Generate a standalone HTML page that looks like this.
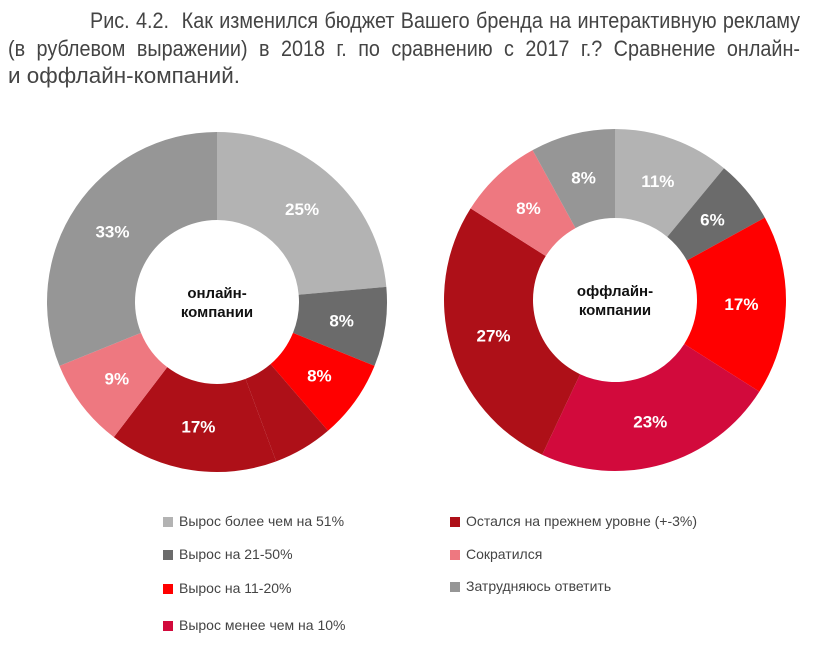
<!DOCTYPE html>
<html><head><meta charset="utf-8"><style>
body{margin:0;background:#fff;width:835px;height:651px;overflow:hidden;font-family:"Liberation Sans",sans-serif}
.t{position:absolute;font-size:22px;color:#444;white-space:nowrap;transform-origin:0 0;text-align:justify;text-align-last:justify}
.lg{position:absolute;font-size:14px;color:#444;white-space:nowrap}
.lg i{display:inline-block;width:10px;height:10px;margin-right:6px;vertical-align:-1px}
</style></head><body>
<div class="t" style="left:90px;top:8px;width:789px;transform:scaleX(0.9)">Рис. 4.2.&nbsp; Как изменился бюджет Вашего бренда на интерактивную рекламу</div>
<div class="t" style="left:8px;top:36px;width:880px;transform:scaleX(0.9)">(в рублевом выражении) в 2018 г. по сравнению с 2017 г.? Сравнение онлайн-</div>
<div class="t" style="left:8px;top:63px;text-align-last:auto;transform:scaleX(1.02)">и оффлайн-компаний.</div>
<svg id="c" width="835" height="651" style="position:absolute;left:0;top:0"></svg>
<div class="lg" style="left:163px;top:513px"><i style="background:#b3b3b3"></i>Вырос более чем на 51%</div>
<div class="lg" style="left:163px;top:546px"><i style="background:#6b6b6b"></i>Вырос на 21-50%</div>
<div class="lg" style="left:163px;top:580px"><i style="background:#ff0000"></i>Вырос на 11-20%</div>
<div class="lg" style="left:163px;top:617px"><i style="background:#d20a3c"></i>Вырос менее чем на 10%</div>
<div class="lg" style="left:450px;top:513px"><i style="background:#ae1018"></i>Остался на прежнем уровне (+-3%)</div>
<div class="lg" style="left:450px;top:546px"><i style="background:#ee7880"></i>Сократился</div>
<div class="lg" style="left:450px;top:578px"><i style="background:#969696"></i>Затрудняюсь ответить</div>
<script>
const onlineValues=[25,8,8,6,17,9,33];
const onlineLabels=["25%","8%","8%","","17%","9%","33%"];
const onlineColors=["#b3b3b3","#6b6b6b","#ff0000","#ae1018","#ae1018","#ee7880","#969696"];
const offlineValues=[11,6,17,23,27,8,8];
const offlineLabels=["11%","6%","17%","23%","27%","8%","8%"];
const offlineColors=["#b3b3b3","#6b6b6b","#ff0000","#d20a3c","#ae1018","#ee7880","#969696"];
const svg=document.getElementById('c');
const NS='http://www.w3.org/2000/svg';
function pt(cx,cy,r,a){return [cx+r*Math.sin(a),cy-r*Math.cos(a)];}
function donut(name,cx,cy,R,r,vals,labs,cols,center){
  const tot=vals.reduce((s,v)=>s+v,0);let a=0;
  vals.forEach((v,i)=>{
    const a2=a+v/tot*2*Math.PI;
    const [x1,y1]=pt(cx,cy,R,a),[x2,y2]=pt(cx,cy,R,a2),[x3,y3]=pt(cx,cy,r,a2),[x4,y4]=pt(cx,cy,r,a);
    const lg=(a2-a)>Math.PI?1:0;
    const p=document.createElementNS(NS,'path');
    p.setAttribute('d',`M${x1},${y1}A${R},${R} 0 ${lg} 1 ${x2},${y2}L${x3},${y3}A${r},${r} 0 ${lg} 0 ${x4},${y4}Z`);
    p.setAttribute('fill',cols[i]);
    
    
    svg.appendChild(p);
    if(labs[i]){
      const [lx,ly]=pt(cx,cy,(R+r)/2,(a+a2)/2);
      const t=document.createElementNS(NS,'text');
      t.setAttribute('x',lx);t.setAttribute('y',ly+6);
      t.setAttribute('text-anchor','middle');t.setAttribute('fill','#fff');
      t.setAttribute('font-size','17');t.setAttribute('font-weight','bold');
      t.setAttribute('font-family','Liberation Sans, sans-serif');
      t.textContent=labs[i];
      
      
      svg.appendChild(t);
    }
    a=a2;
  });
  center.forEach((s,j)=>{
    const t=document.createElementNS(NS,'text');
    t.setAttribute('x',cx);t.setAttribute('y',cy-4+j*19);
    t.setAttribute('text-anchor','middle');t.setAttribute('fill','#111');
    t.setAttribute('font-size','15');t.setAttribute('font-weight','bold');
    t.setAttribute('font-family','Liberation Sans, sans-serif');
    t.textContent=s;
    
    
    svg.appendChild(t);
  });
}
donut('online',217,302,170,82,onlineValues,onlineLabels,onlineColors,['онлайн-','компании']);
donut('offline',615,300,171,82,offlineValues,offlineLabels,offlineColors,['оффлайн-','компании']);
</script>
</body></html>
